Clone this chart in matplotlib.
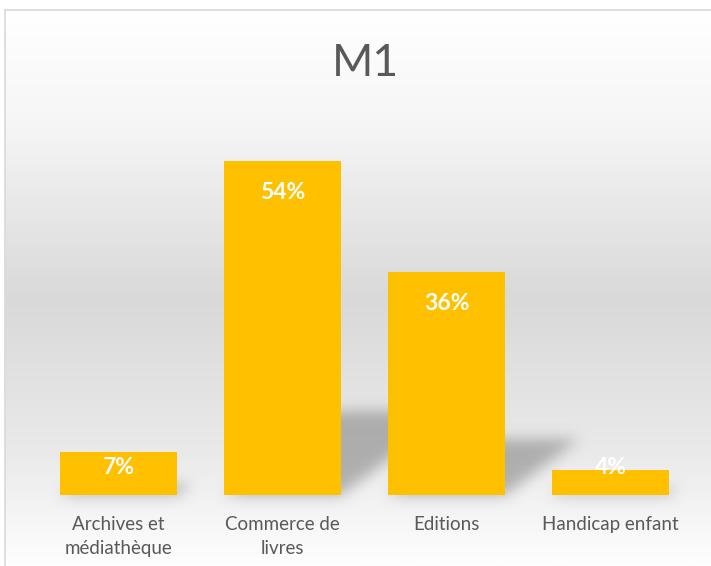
"""
M1 : répartition par secteur (barres style Excel avec ombre portée).
"""

import matplotlib

matplotlib.use("Agg")
import matplotlib.pyplot as plt
import numpy as np
from matplotlib.colors import LinearSegmentedColormap
from matplotlib.patches import Rectangle

categories = ["Archives et\nmédiathèque", "Commerce de\nlivres", "Editions", "Handicap enfant"]
values = [7, 54, 36, 4]
value_labels = ["7%", "54%", "36%", "4%"]
title = "M1"

BAR_COLOR = "#FFC000"
TEXT_COLOR = "#595959"
FONT = ["Lato", "DejaVu Sans"]

W, H = 711, 566
fig = plt.figure(figsize=(W / 100, H / 100), dpi=100)
fig.patch.set_facecolor("white")

# fond dégradé de la zone graphique
bg = fig.add_axes([5 / W, 0, 1 - 5 / W, 1 - 10 / H], zorder=0)
grad_cmap = LinearSegmentedColormap.from_list(
    "bg",
    [(0.0, "#ffffff"), (0.2, "#f6f6f6"), (0.52, "#d9d9d9"), (0.8, "#eaeaea"), (1.0, "#fefefe")],
)
grad = np.linspace(0, 1, 256).reshape(-1, 1)
bg.imshow(grad, aspect="auto", cmap=grad_cmap, extent=(0, 1, 0, 1), origin="upper")
bg.set_xlim(0, 1)
bg.set_ylim(0, 1)
bg.axis("off")
fig.patches.append(
    Rectangle((5 / W, -0.01), 1.0, 1 - 10 / H + 0.01, transform=fig.transFigure,
              fill=False, edgecolor="#d9d9d9", linewidth=1.2, zorder=1)
)

ax = fig.add_axes([36.5 / W, 71 / H, 656 / W, 371 / H], zorder=2)
ax.patch.set_alpha(0)
x = np.arange(len(values))
width = 0.713
xlim = (-0.5, len(values) - 0.5)
ylim = (0, 60)


def blur(img, sigma):
    r = int(3 * sigma)
    k = np.exp(-0.5 * (np.arange(-r, r + 1) / sigma) ** 2)
    k /= k.sum()
    img = np.apply_along_axis(lambda m: np.convolve(m, k, mode="same"), 0, img)
    img = np.apply_along_axis(lambda m: np.convolve(m, k, mode="same"), 1, img)
    return img


# ombres portées : parallélogrammes inclinés puis floutés
sx = np.linspace(xlim[0], xlim[1], 656)
sy = np.linspace(-4, ylim[1], 400)
GX, GY = np.meshgrid(sx, sy)
mask = np.zeros_like(GX)
for xi, v in zip(x, values):
    top = v * 0.25
    dx = v * 0.0125
    t = np.clip(GY / top, 0, None)
    inside = (GY >= 0) & (GY <= top) & (GX >= xi - width / 2 + dx * t) & (GX <= xi + width / 2 + dx * t)
    mask = np.maximum(mask, inside.astype(float))
mask = blur(mask, 7)
shadow = np.zeros(mask.shape + (4,))
shadow[..., :3] = 0.45
shadow[..., 3] = mask * 0.5
ax.imshow(shadow, origin="lower", aspect="auto", extent=(xlim[0], xlim[1], sy[0], sy[-1]),
          interpolation="bilinear", zorder=1, clip_on=False)

ax.bar(x, values, width=width, color=BAR_COLOR, zorder=3)

for xi, v, lab in zip(x, values, value_labels):
    ax.text(xi, max(v - 5, 4.4), lab, ha="center", va="center", color="white",
            fontsize=16.5, fontweight="bold", family=FONT, zorder=4)

ax.set_xlim(*xlim)
ax.set_ylim(*ylim)
ax.set_xticks(x)
ax.set_xticklabels(categories, fontsize=13.5, color=TEXT_COLOR, family=FONT,
                   linespacing=1.5, va="top")
ax.tick_params(axis="x", length=0, pad=15)
ax.set_yticks([])
for s in ax.spines.values():
    s.set_visible(False)

fig.text(365 / W, 1 - 63 / H, title, ha="center", va="center", fontsize=32,
         color=TEXT_COLOR, family=FONT)

fig.savefig("out.png", dpi=100)
